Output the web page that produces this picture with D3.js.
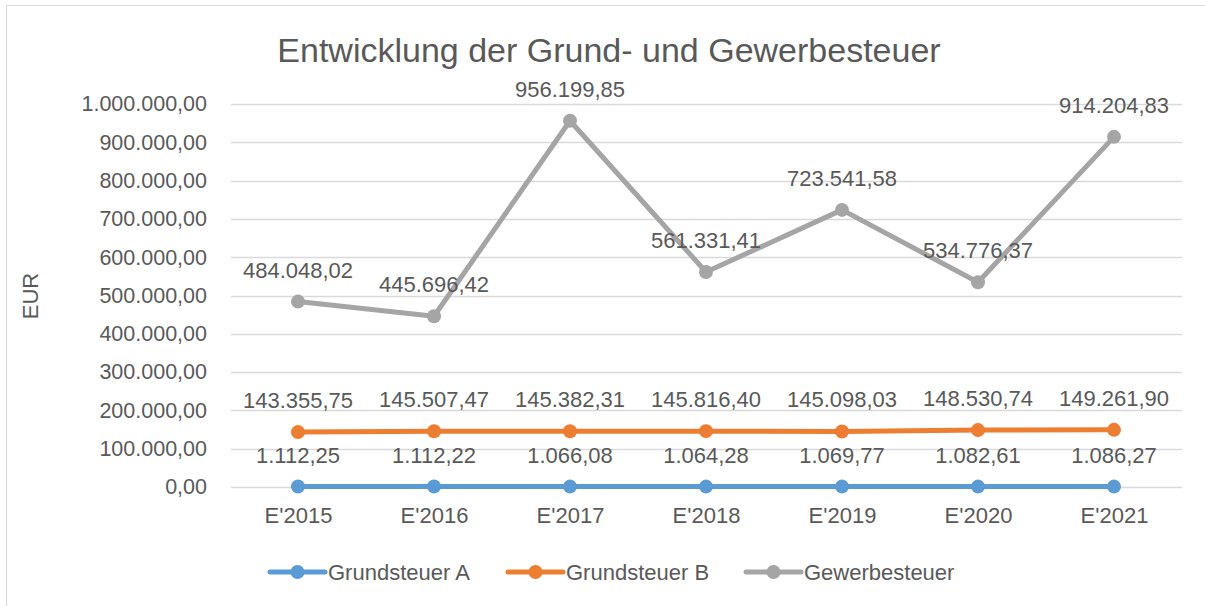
<!DOCTYPE html>
<html>
<head>
<meta charset="utf-8">
<script src="https://cdn.jsdelivr.net/npm/d3@7"></script>
<style>
  body { margin: 0; background: #fff; }
  text { font-family: "Liberation Sans", Arial, sans-serif; fill: #595959; }
</style>
</head>
<body>
<svg width="1205" height="606"></svg>
<script>
// data
const years = ["E'2015", "E'2016", "E'2017", "E'2018", "E'2019", "E'2020", "E'2021"]
const grundsteuerA = [1112.25, 1112.22, 1066.08, 1064.28, 1069.77, 1082.61, 1086.27]
const grundsteuerB = [143355.75, 145507.47, 145382.31, 145816.40, 145098.03, 148530.74, 149261.90]
const gewerbesteuer = [484048.02, 445696.42, 956199.85, 561331.41, 723541.58, 534776.37, 914204.83]
const yTicks = [0, 100000, 200000, 300000, 400000, 500000, 600000, 700000, 800000, 900000, 1000000]

const seriesNames = ["Grundsteuer A", "Grundsteuer B", "Gewerbesteuer"]
const seriesColors = ["#5B9BD5", "#ED7D31", "#A5A5A5"]
const series = [grundsteuerA, grundsteuerB, gewerbesteuer]

const de = d3.formatLocale({ decimal: ",", thousands: ".", grouping: [3], currency: ["", " €"] })
const fmt = de.format(",.2f")

const svg = d3.select("svg")

// chart frame
svg.append("rect")
  .attr("x", 6.5).attr("y", 5.5)
  .attr("width", 1205).attr("height", 606)
  .attr("fill", "none")
  .attr("stroke", "#D9D9D9")

const x = d3.scalePoint().domain(years).range([298, 1114])
const y = d3.scaleLinear().domain([0, 1000000]).range([487, 104])

// gridlines
svg.append("g")
  .selectAll("line")
  .data(yTicks)
  .join("line")
    .attr("x1", 231).attr("x2", 1182)
    .attr("y1", d => Math.round(y(d)) + 0.5)
    .attr("y2", d => Math.round(y(d)) + 0.5)
    .attr("stroke", "#D9D9D9")
    .attr("stroke-width", 1.5)

// y axis labels
const yAxis = svg.append("g")
  .attr("transform", "translate(207,0)")
  .call(d3.axisLeft(y).tickValues(yTicks).tickFormat(fmt).tickSize(0).tickPadding(0))
yAxis.select(".domain").remove()
yAxis.selectAll("text")
  .attr("font-size", 21.5)
  .attr("font-family", "Liberation Sans, Arial, sans-serif")
  .attr("fill", "#595959")

// x axis labels
const xAxis = svg.append("g")
  .attr("transform", "translate(0,507)")
  .call(d3.axisBottom(x).tickSize(0).tickPadding(0))
xAxis.select(".domain").remove()
xAxis.selectAll("text")
  .attr("font-size", 22)
  .attr("font-family", "Liberation Sans, Arial, sans-serif")
  .attr("fill", "#595959")

// title
svg.append("text")
  .attr("x", 609).attr("y", 62)
  .attr("text-anchor", "middle")
  .attr("font-size", 34)
  .text("Entwicklung der Grund- und Gewerbesteuer")

// y title
svg.append("text")
  .attr("transform", "translate(38,296) rotate(-90)")
  .attr("text-anchor", "middle")
  .attr("font-size", 22)
  .text("EUR")

const line = d3.line()
  .x((d, i) => x(years[i]))
  .y(d => y(d))

series.forEach((vals, s) => {
  const g = svg.append("g")
  g.append("path")
    .datum(vals)
    .attr("d", line)
    .attr("fill", "none")
    .attr("stroke", seriesColors[s])
    .attr("stroke-width", 5)
    .attr("stroke-linejoin", "round")
    .attr("stroke-linecap", "round")
  g.selectAll("circle")
    .data(vals)
    .join("circle")
      .attr("cx", (d, i) => x(years[i]))
      .attr("cy", d => y(d))
      .attr("r", 7)
      .attr("fill", seriesColors[s])
})

// data labels, drawn last so they sit on top
series.forEach((vals, s) => {
  svg.append("g")
    .selectAll("text")
    .data(vals)
    .join("text")
      .attr("x", (d, i) => x(years[i]))
      .attr("y", d => y(d) - 24)
      .attr("text-anchor", "middle")
      .attr("font-size", 22)
      .text(d => fmt(d))
})

// legend
const legendX = [270, 508, 746]
const legend = svg.append("g")
seriesNames.forEach((name, s) => {
  const lg = legend.append("g").attr("transform", "translate(" + legendX[s] + ",572)")
  lg.append("line")
    .attr("x1", 0).attr("x2", 55)
    .attr("stroke", seriesColors[s])
    .attr("stroke-width", 5)
    .attr("stroke-linecap", "round")
  lg.append("circle")
    .attr("cx", 27.5).attr("r", 7)
    .attr("fill", seriesColors[s])
  lg.append("text")
    .attr("x", 58).attr("y", 8)
    .attr("font-size", 22)
    .text(name)
})
</script>
</body>
</html>
